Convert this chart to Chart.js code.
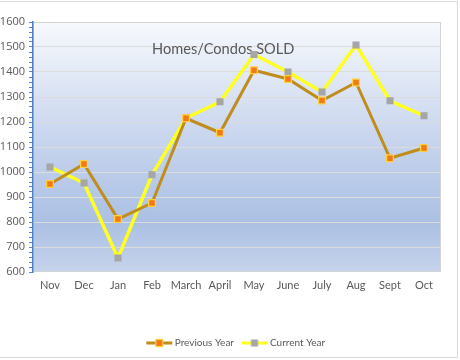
<!DOCTYPE html>
<html>
<head>
<meta charset="utf-8">
<script src="https://cdn.jsdelivr.net/npm/chart.js@4.4.1/dist/chart.umd.min.js"></script>
<style>
html,body{margin:0;padding:0;background:#fff;}
canvas{display:block;}
</style>
</head>
<body>
<canvas id="c" width="460" height="360"></canvas>
<script>
const categories = ["Nov","Dec","Jan","Feb","March","April","May","June","July","Aug","Sept","Oct"];
const previousYear = [952,1032,812,876,1215,1157,1407,1372,1286,1358,1055,1096];
const currentYear = [1020,956,656,989,1216,1281,1470,1400,1320,1508,1285,1225];
const seriesNames = ["Previous Year","Current Year"];
const chartTitle = "Homes/Condos SOLD";
const yMin = 600, yMax = 1600, yMinorStep = 20, yMajorStep = 100;

const FONT = "'Open Sans', 'Noto Sans', sans-serif";
const FONT2 = "Lato, 'Open Sans', sans-serif";
const TEXT = '#595959';

function legendIcon(lineColor, fill, border){
  const c = document.createElement('canvas');
  c.width = 30; c.height = 10;
  const g = c.getContext('2d');
  g.strokeStyle = lineColor; g.lineWidth = 3;
  g.beginPath(); g.moveTo(2,5); g.lineTo(28,5); g.stroke();
  g.fillStyle = fill; g.fillRect(11.5,1.5,7,7);
  if (border){ g.strokeStyle = border; g.lineWidth = 1.2; g.strokeRect(11.5,1.5,7,7); }
  return c;
}
const icons = [legendIcon('#bf8d1c','#f07a18','#ffd040'), legendIcon('#ffff22','#a6a6a6',null)];

const bgPlugin = {
  id:'bg',
  beforeDraw(chart){
    const {ctx, chartArea:a} = chart;
    const gr = ctx.createLinearGradient(0,a.top,0,a.bottom);
    gr.addColorStop(0,'#f7f9fd');
    gr.addColorStop(0.45,'#c9d6ee');
    gr.addColorStop(0.8,'#abc0e3');
    gr.addColorStop(1,'#c6d3ec');
    ctx.save();
    ctx.fillStyle = gr;
    ctx.fillRect(a.left,a.top,a.right-a.left,a.bottom-a.top);
    ctx.strokeStyle = '#d4d4d4'; ctx.lineWidth = 1;
    ctx.strokeRect(a.left+0.5,a.top+0.5,a.right-a.left-1,a.bottom-a.top-1);
    ctx.restore();
  },
  beforeDatasetsDraw(chart){
    const {ctx, chartArea:a} = chart;
    ctx.save();
    ctx.font = "14.6px " + FONT2;
    ctx.fillStyle = TEXT;
    ctx.textBaseline = 'middle';
    ctx.fillText(chartTitle, a.left + 119, a.top + 27);
    ctx.restore();
  },
  afterDraw(chart){
    const ctx = chart.ctx;
    ctx.save();
    ctx.strokeStyle = '#d9d9d9'; ctx.lineWidth = 1;
    ctx.strokeRect(-5, 1.5, 462.5, 356);
    ctx.restore();
  }
};

new Chart(document.getElementById('c'), {
  type:'line',
  data:{
    labels: categories,
    datasets:[
      {label: seriesNames[0], data: previousYear, borderColor:'#bf8d1c', borderWidth:3,
       pointStyle:'rect', pointRadius:4.8, pointBackgroundColor:'#f07a18', pointBorderColor:'#ffd040', pointBorderWidth:1.3,
       tension:0, fill:false},
      {label: seriesNames[1], data: currentYear, borderColor:'#ffff22', borderWidth:3.5,
       pointStyle:'rect', pointRadius:5, pointBackgroundColor:'#a6a6a6', pointBorderColor:'#a6a6a6', pointBorderWidth:0,
       tension:0, fill:false}
    ]
  },
  options:{
    responsive:false, animation:false, devicePixelRatio:1,
    layout:{padding:{left:0,right:19,top:22,bottom:2}},
    plugins:{
      title:{display:false},
      tooltip:{enabled:false},
      legend:{
        position:'bottom',
        fullSize:false,
        labels:{
          usePointStyle:true, pointStyleWidth:21, padding:10,
          color:TEXT, font:{family:FONT2,size:10},
          generateLabels(chart){
            return chart.data.datasets.map((d,i)=>({
              text:d.label, pointStyle:icons[i], fillStyle:'transparent', strokeStyle:'transparent',
              lineWidth:0, hidden:false, datasetIndex:i, fontColor:TEXT
            }));
          }
        }
      }
    },
    scales:{
      x:{
        offset:true,
        grid:{display:false, drawTicks:false, tickLength:0},
        border:{display:false},
        ticks:{color:TEXT, font:{family:FONT2,size:11}, padding:7, maxRotation:0, autoSkip:false},
        afterFit(s){ s.height = 56; }
      },
      y:{
        min:yMin, max:yMax,
        grid:{
          color:(c)=> (c.tick && c.tick.value % yMajorStep === 0 && c.tick.value!==yMin && c.tick.value!==yMax) ? '#dcdcdc' : 'rgba(0,0,0,0)',
          tickColor:'#5a84c8', tickLength:4, lineWidth:1
        },
        border:{color:'#4f7fc4', width:1.5},
        ticks:{
          stepSize:yMinorStep, autoSkip:false, padding:4,
          color:TEXT, font:{family:FONT,size:11},
          callback:(v)=> v % yMajorStep === 0 ? String(v) : ''
        },
        afterFit(s){ s.width = 33; }
      }
    }
  },
  plugins:[bgPlugin]
});
</script>
</body>
</html>
